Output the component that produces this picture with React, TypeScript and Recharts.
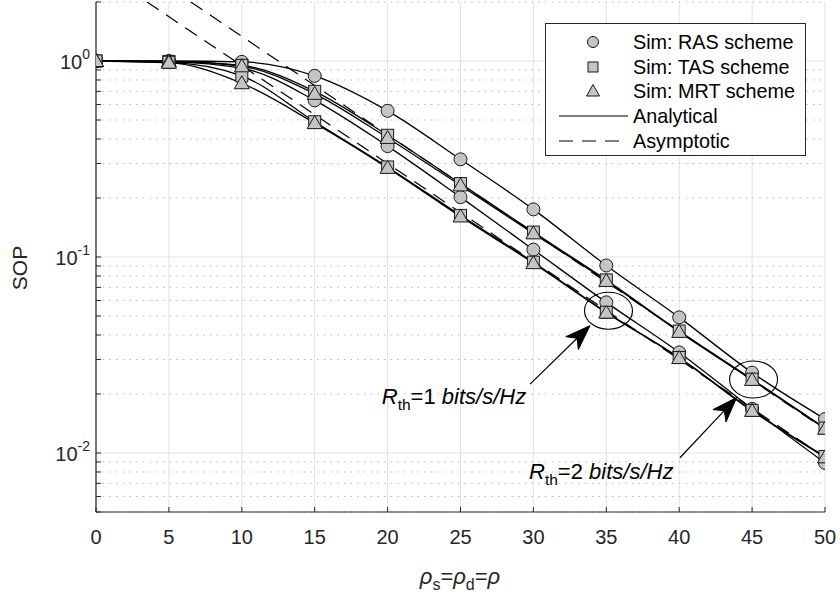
import React from 'react';
import { LineChart, Line, XAxis, YAxis, CartesianGrid, ReferenceLine, ReferenceDot } from 'recharts';

// ---------- data ----------
const snr = [0, 5, 10, 15, 20, 25, 30, 35, 40, 45, 50];
const rasR2 = [1, 1, 0.99, 0.84, 0.557, 0.315, 0.175, 0.0905, 0.0492, 0.0257, 0.0149];
const tasR2 = [1, 0.995, 0.95, 0.7, 0.418, 0.237, 0.134, 0.0764, 0.0419, 0.0238, 0.0134];
const mrtR2 = [1, 0.995, 0.94, 0.68, 0.405, 0.232, 0.132, 0.0755, 0.0415, 0.0236, 0.0133];
const rasR1 = [1, 0.99, 0.92, 0.63, 0.368, 0.202, 0.109, 0.0587, 0.0326, 0.0168, 0.0089];
const tasR1 = [1, 0.985, 0.84, 0.49, 0.288, 0.163, 0.0941, 0.0522, 0.0307, 0.0165, 0.0096];
const mrtR1 = [1, 0.98, 0.77, 0.482, 0.285, 0.161, 0.093, 0.052, 0.0305, 0.0164, 0.0095];

// asymptotic straight lines (endpoints)
const asymR2X = [6.5, 50];
const asymR2Y = [2.0, 0.0132];
const asymR1X = [3.5, 50];
const asymR1Y = [2.0, 0.0095];

const xTicks = [0, 5, 10, 15, 20, 25, 30, 35, 40, 45, 50];
const yMajor = [0.01, 0.1, 1];
const yMinor = [0.005, 0.006, 0.007, 0.008, 0.009, 0.02, 0.03, 0.04, 0.05, 0.06, 0.07, 0.08, 0.09,
  0.2, 0.3, 0.4, 0.5, 0.6, 0.7, 0.8, 0.9, 2];
const yTicks = [...yMajor, ...yMinor].sort((a, b) => a - b);
const yLabels: Record<string, string> = { '0.01': '-2', '0.1': '-1', '1': '0' };

// annotations
const ellipseX = [35.15, 45.1];
const ellipseY = [0.0532, 0.0237];
const arrowTail = [{ x: 29.77, y: 0.02245 }, { x: 40.05, y: 0.00946 }];
const arrowTip = [{ x: 33.88, y: 0.04463 }, { x: 43.94, y: 0.01918 }];
const noteX = [19.6, 29.7];
const noteY = [0.0178, 0.00736];
const noteRth = ['1', '2'];

const data = snr.map((x, i) => ({
  x, rasR2: rasR2[i], tasR2: tasR2[i], mrtR2: mrtR2[i], rasR1: rasR1[i], tasR1: tasR1[i], mrtR1: mrtR1[i],
}));
const asymR2 = asymR2X.map((x, i) => ({ x, y: asymR2Y[i] }));
const asymR1 = asymR1X.map((x, i) => ({ x, y: asymR1Y[i] }));

const FONT = '"Liberation Sans", Arial, Helvetica, sans-serif';
const AX = '#262626';
const MFILL = '#c4c4c4';
const MSTROKE = '#1a1a1a';

const circleDot = (p: any) => {
  if (p.cx == null || p.cy == null) return <g key={p.key} />;
  return <circle key={p.key} cx={p.cx} cy={p.cy} r={6.5} fill={MFILL} stroke={MSTROKE} strokeWidth={1} />;
};
const squareDot = (p: any) => {
  if (p.cx == null || p.cy == null) return <g key={p.key} />;
  return <rect key={p.key} x={p.cx - 6} y={p.cy - 6} width={12} height={12} fill={MFILL} stroke={MSTROKE} strokeWidth={1} />;
};
const triDot = (p: any) => {
  if (p.cx == null || p.cy == null) return <g key={p.key} />;
  const { cx, cy } = p;
  return <polygon key={p.key} points={`${cx},${cy - 7.5} ${cx - 7.5},${cy + 5.5} ${cx + 7.5},${cy + 5.5}`} fill={MFILL} stroke={MSTROKE} strokeWidth={1} />;
};

const XTick = (p: any) => (
  <text x={p.x} y={p.y} textAnchor="middle" fontSize={20} fontFamily={FONT} fill={AX}>{p.payload.value}</text>
);
const YTick = (p: any) => {
  const lab = yLabels[String(p.payload.value)];
  if (!lab) return <g />;
  return (
    <text x={p.x} y={p.y + 8} textAnchor="end" fontSize={20} fontFamily={FONT} fill={AX}>
      10<tspan fontSize={14} dy={-10}>{lab}</tspan>
    </text>
  );
};

const ArrowShape = (p: any) => {
  const { x1, y1, x2, y2 } = p;
  const dx = x2 - x1, dy = y2 - y1;
  const len = Math.sqrt(dx * dx + dy * dy);
  const ux = dx / len, uy = dy / len;
  const nx = -uy, ny = ux;
  const L = 25, W = 9, notch = 7;
  const bx = x2 - ux * L, by = y2 - uy * L;
  const pts = `${x2},${y2} ${bx + nx * W},${by + ny * W} ${bx + ux * notch},${by + uy * notch} ${bx - nx * W},${by - ny * W}`;
  return (
    <g>
      <line x1={x1} y1={y1} x2={bx + ux * notch} y2={by + uy * notch} stroke="#000" strokeWidth={1.2} />
      <polygon points={pts} fill="#000" stroke="#000" strokeWidth={1} />
    </g>
  );
};

const NoteShape = (rth: string) => (p: any) => (
  <text x={p.cx} y={p.cy} fontSize={22} fontFamily={FONT} fill="#000">
    <tspan fontStyle="italic">R</tspan>
    <tspan fontSize={15.5} dy={6}>th</tspan>
    <tspan dy={-6}>{`=${rth}\u00a0`}</tspan>
    <tspan fontStyle="italic">bits/s/Hz</tspan>
  </text>
);

const EllipseShape = (p: any) => (
  <ellipse cx={p.cx} cy={p.cy} rx={24} ry={18.5} fill="none" stroke="#000" strokeWidth={1.1} />
);

const Legend = () => {
  const rows = [42, 67, 91, 116, 141];
  const tx = 633;
  const mx = 593;
  return (
    <g fontFamily={FONT} fontSize={19.8} fill="#000">
      <rect x={545.5} y={23.5} width={260} height={132} fill="#fff" stroke={AX} strokeWidth={1} />
      <circle cx={mx} cy={rows[0]} r={5.5} fill={MFILL} stroke={MSTROKE} />
      <text x={tx} y={rows[0] + 7}>Sim: RAS scheme</text>
      <rect x={mx - 5} y={rows[1] - 5} width={10} height={10} fill={MFILL} stroke={MSTROKE} />
      <text x={tx} y={rows[1] + 7}>Sim: TAS scheme</text>
      <polygon points={`${mx},${rows[2] - 6.5} ${mx - 6.5},${rows[2] + 5} ${mx + 6.5},${rows[2] + 5}`} fill={MFILL} stroke={MSTROKE} />
      <text x={tx} y={rows[2] + 7}>Sim: MRT scheme</text>
      <line x1={559} x2={628} y1={rows[3]} y2={rows[3]} stroke="#000" strokeWidth={1.2} />
      <text x={tx} y={rows[3] + 7}>Analytical</text>
      <line x1={559} x2={628} y1={rows[4]} y2={rows[4]} stroke="#000" strokeWidth={1.2} strokeDasharray="14 9" />
      <text x={tx} y={rows[4] + 7}>Asymptotic</text>
    </g>
  );
};

export default function App() {
  const domainY: [number, number] = [0.005, 2];
  return (
    <div style={{ position: 'absolute', left: 0, top: 0, width: 840, height: 594, background: '#fff' }}>
      <LineChart width={840} height={594} data={data} margin={{ top: 2, right: 15, left: 0, bottom: 0 }}>
        <CartesianGrid horizontal={false} vertical stroke="#e2e2e2" strokeWidth={1} />
        {yMinor.map((v) => (
          <ReferenceLine key={'mn' + v} y={v} stroke="#b8b8b8" strokeWidth={1} strokeDasharray="1.5 5.2" />
        ))}
        {yMajor.map((v) => (
          <ReferenceLine key={'mj' + v} y={v} stroke="#e2e2e2" strokeWidth={1} />
        ))}
        <XAxis dataKey="x" type="number" domain={[0, 50]} ticks={xTicks} interval={0} height={82}
          tickSize={-5} tickMargin={37} tick={<XTick />} axisLine={{ stroke: AX, strokeWidth: 1.2 }}
          tickLine={{ stroke: AX, strokeWidth: 1 }} allowDataOverflow />
        <XAxis xAxisId="top" type="number" orientation="top" mirror height={0} domain={[0, 50]} ticks={xTicks}
          interval={0} tick={false} tickSize={5} axisLine={{ stroke: AX, strokeWidth: 1.2 }}
          tickLine={{ stroke: AX, strokeWidth: 1 }} allowDataOverflow />
        <YAxis scale="log" domain={domainY} ticks={yTicks} interval={0} width={96} allowDataOverflow
          tickSize={-5} tickMargin={11} tick={<YTick />} axisLine={{ stroke: AX, strokeWidth: 1.2 }}
          tickLine={{ stroke: AX, strokeWidth: 1 }} />
        <YAxis yAxisId="right" orientation="right" mirror width={0} scale="log" domain={domainY} ticks={yTicks}
          interval={0} tick={false} tickSize={5} allowDataOverflow axisLine={{ stroke: AX, strokeWidth: 1.2 }}
          tickLine={{ stroke: AX, strokeWidth: 1 }} />

        {/* simulation markers */}
        <Line dataKey="rasR2" stroke="none" dot={circleDot} activeDot={false} isAnimationActive={false} />
        <Line dataKey="rasR1" stroke="none" dot={circleDot} activeDot={false} isAnimationActive={false} />
        <Line dataKey="tasR2" stroke="none" dot={squareDot} activeDot={false} isAnimationActive={false} />
        <Line dataKey="tasR1" stroke="none" dot={squareDot} activeDot={false} isAnimationActive={false} />
        <Line dataKey="mrtR2" stroke="none" dot={triDot} activeDot={false} isAnimationActive={false} />
        <Line dataKey="mrtR1" stroke="none" dot={triDot} activeDot={false} isAnimationActive={false} />

        {/* analytical curves */}
        {['rasR2', 'tasR2', 'mrtR2', 'rasR1', 'tasR1', 'mrtR1'].map((k) => (
          <Line key={'a' + k} type="monotone" dataKey={k} stroke="#000" strokeWidth={1.3} dot={false}
            activeDot={false} isAnimationActive={false} />
        ))}

        {/* asymptotic lines */}
        <Line data={asymR2} dataKey="y" type="linear" stroke="#000" strokeWidth={1.2} strokeDasharray="14 9"
          dot={false} activeDot={false} isAnimationActive={false} />
        <Line data={asymR1} dataKey="y" type="linear" stroke="#000" strokeWidth={1.2} strokeDasharray="14 9"
          dot={false} activeDot={false} isAnimationActive={false} />

        {/* annotations */}
        {ellipseX.map((x, i) => (
          <ReferenceDot key={'el' + i} x={x} y={ellipseY[i]} r={0} shape={EllipseShape} ifOverflow="visible" />
        ))}
        {arrowTail.map((t, i) => (
          <ReferenceLine key={'ar' + i} segment={[t, arrowTip[i]]} shape={ArrowShape} ifOverflow="visible" />
        ))}
        {noteX.map((x, i) => (
          <ReferenceDot key={'nt' + i} x={x} y={noteY[i]} r={0} shape={NoteShape(noteRth[i])} ifOverflow="visible" />
        ))}
      </LineChart>
      <svg width={840} height={594} style={{ position: 'absolute', left: 0, top: 0, pointerEvents: 'none' }}>
        <Legend />
        <text x={0} y={0} transform="translate(27,268) rotate(-90)" textAnchor="middle" fontSize={21}
          fontFamily={FONT} fill={AX}>SOP</text>
        <text x={460} y={584} textAnchor="middle" fontSize={22} fontFamily={FONT} fill={AX}>
          <tspan fontStyle="italic">ρ</tspan>
          <tspan fontSize={16} dy={6}>s</tspan>
          <tspan dy={-6}>=</tspan>
          <tspan fontStyle="italic">ρ</tspan>
          <tspan fontSize={16} dy={6}>d</tspan>
          <tspan dy={-6}>=</tspan>
          <tspan fontStyle="italic">ρ</tspan>
        </text>
      </svg>
    </div>
  );
}
